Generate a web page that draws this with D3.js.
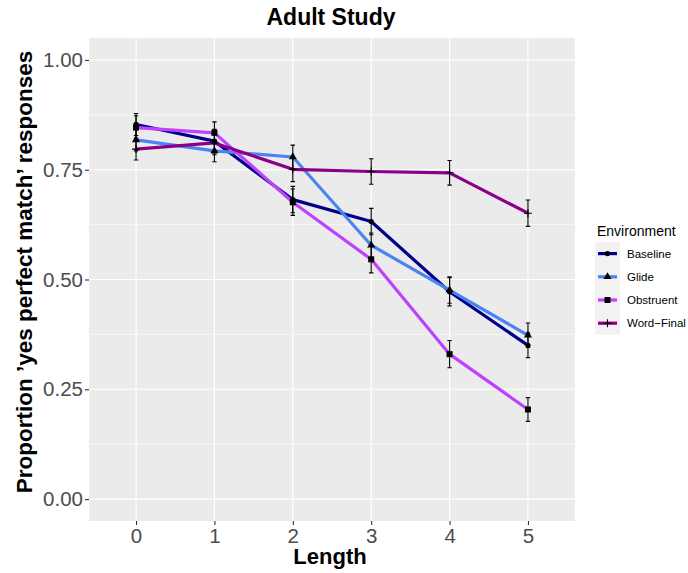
<!DOCTYPE html>
<html>
<head>
<meta charset="utf-8">
<script src="https://cdn.jsdelivr.net/npm/d3@7"></script>
<style>
  body { margin: 0; background: #fff; }
  text { font-family: "Liberation Sans", Arial, Helvetica, sans-serif; }
</style>
</head>
<body>
<svg id="chart" width="688" height="573"></svg>
<script>
// ---- data ----
const lengths = [0, 1, 2, 3, 4, 5];
const environments = ["Baseline", "Glide", "Obstruent", "Word\u2212Final"];
const baselineVals  = [0.853, 0.815, 0.682, 0.632, 0.472, 0.350];
const glideVals     = [0.818, 0.793, 0.779, 0.578, 0.476, 0.373];
const obstruentVals = [0.846, 0.834, 0.676, 0.546, 0.330, 0.204];
const wordFinalVals = [0.797, 0.811, 0.751, 0.746, 0.743, 0.651];
const baselineSE  = [0.025, 0.027, 0.030, 0.030, 0.032, 0.028];
const glideSE     = [0.025, 0.025, 0.027, 0.028, 0.030, 0.028];
const obstruentSE = [0.027, 0.025, 0.030, 0.031, 0.031, 0.027];
const wordFinalSE = [0.025, 0.027, 0.028, 0.029, 0.028, 0.030];
const yTicks = [0, 0.25, 0.5, 0.75, 1.0];
const yMinor = [0.125, 0.375, 0.625, 0.875];
const colors = ["#00008B", "#4A84F2", "#BF40FF", "#8B008B"];
const shapes = [d3.symbolCircle, d3.symbolTriangle, d3.symbolSquare, "plus"];
const shapeSizes = [22, 28, 36, 0];

const seriesVals = [baselineVals, glideVals, obstruentVals, wordFinalVals];
const seriesSE = [baselineSE, glideSE, obstruentSE, wordFinalSE];
const series = environments.map((name, i) => ({
  name, color: colors[i], shape: shapes[i], size: shapeSizes[i],
  pts: lengths.map((x, j) => ({ x, y: seriesVals[i][j], se: seriesSE[i][j] }))
}));

// ---- layout ----
const svg = d3.select("#chart");
const P = { left: 89, right: 575, top: 38, bottom: 521 };
const x = d3.scaleLinear().domain([-0.6, 5.6]).range([P.left, P.right]);
const y = d3.scaleLinear().domain([-0.05, 1.05]).range([P.bottom, P.top]);

// panel
svg.append("rect").attr("x", P.left).attr("y", P.top)
  .attr("width", P.right - P.left).attr("height", P.bottom - P.top)
  .attr("fill", "#EBEBEB");

const grid = svg.append("g");
grid.selectAll(".minor").data(yMinor).join("line")
  .attr("x1", P.left).attr("x2", P.right)
  .attr("y1", d => y(d)).attr("y2", d => y(d))
  .attr("stroke", "#fff").attr("stroke-width", 0.6);
grid.selectAll(".majY").data(yTicks).join("line")
  .attr("x1", P.left).attr("x2", P.right)
  .attr("y1", d => y(d)).attr("y2", d => y(d))
  .attr("stroke", "#fff").attr("stroke-width", 1.2);
grid.selectAll(".majX").data(lengths).join("line")
  .attr("y1", P.top).attr("y2", P.bottom)
  .attr("x1", d => x(d)).attr("x2", d => x(d))
  .attr("stroke", "#fff").attr("stroke-width", 1.2);

// axes
const yAxis = svg.append("g").attr("transform", `translate(${P.left},0)`)
  .call(d3.axisLeft(y).tickValues(yTicks).tickFormat(d3.format(".2f")).tickSize(4).tickPadding(2));
const xAxis = svg.append("g").attr("transform", `translate(0,${P.bottom})`)
  .call(d3.axisBottom(x).tickValues(lengths).tickFormat(d3.format("d")).tickSize(4).tickPadding(3));
[yAxis, xAxis].forEach(a => {
  a.select(".domain").remove();
  a.selectAll(".tick line").attr("stroke", "#333").attr("stroke-width", 1.1);
  a.selectAll(".tick text").attr("fill", "#4D4D4D")
    .style("font-size", "20.5px").style("font-family", "Liberation Sans, Arial, sans-serif");
});

// lines
const line = d3.line().x(d => x(d.x)).y(d => y(d.y));
svg.append("g").selectAll("path").data(series).join("path")
  .attr("d", d => line(d.pts)).attr("fill", "none")
  .attr("stroke", d => d.color).attr("stroke-width", 3.2)
  .attr("stroke-linejoin", "round");

// points
function drawShape(g, s, cx, cy) {
  if (s.shape === "plus") {
    g.append("path").attr("d", `M${cx-4},${cy}H${cx+4}M${cx},${cy-4}V${cy+4}`)
      .attr("stroke", "#000").attr("stroke-width", 1.1).attr("fill", "none");
  } else {
    g.append("path").attr("d", d3.symbol().type(s.shape).size(s.size)())
      .attr("transform", `translate(${cx},${cy})`).attr("fill", "#000");
  }
}
const ptsG = svg.append("g");
series.forEach(s => s.pts.forEach(p => drawShape(ptsG, s, x(p.x), y(p.y))));

// error bars
const eb = svg.append("g").attr("stroke", "#000").attr("stroke-width", 1.1).attr("fill", "none");
series.forEach(s => s.pts.forEach(p => {
  const cx = x(p.x), y1 = y(p.y + p.se), y2 = y(p.y - p.se), w = 2.2;
  eb.append("path").attr("d", `M${cx-w},${y1}H${cx+w}M${cx},${y1}V${y2}M${cx-w},${y2}H${cx+w}`);
}));

// titles
svg.append("text").attr("x", 331).attr("y", 25).attr("text-anchor", "middle")
  .style("font-size", "23px").style("font-weight", "bold").text("Adult Study");
svg.append("text").attr("x", 330).attr("y", 564).attr("text-anchor", "middle")
  .style("font-size", "22px").style("font-weight", "bold").text("Length");
svg.append("text").attr("transform", `translate(32,272) rotate(-90)`)
  .attr("text-anchor", "middle")
  .style("font-size", "22.5px").style("font-weight", "bold")
  .text("Proportion \u2019yes perfect match\u2019 responses");

// legend
const lg = svg.append("g");
lg.append("text").attr("x", 597).attr("y", 236).style("font-size", "14px").text("Environment");
const keyH = 23.2, keyTop = 242;
series.forEach((s, i) => {
  const ky = keyTop + i * keyH;
  lg.append("rect").attr("x", 595).attr("y", ky).attr("width", 25).attr("height", keyH).attr("fill", "#F2F2F2");
  const cy = ky + keyH / 2;
  lg.append("line").attr("x1", 598).attr("x2", 617).attr("y1", cy).attr("y2", cy)
    .attr("stroke", s.color).attr("stroke-width", 3.2);
  drawShape(lg, s, 607.5, cy);
  lg.append("text").attr("x", 627).attr("y", cy + 4).style("font-size", "11.5px").text(s.name);
});
</script>
</body>
</html>
